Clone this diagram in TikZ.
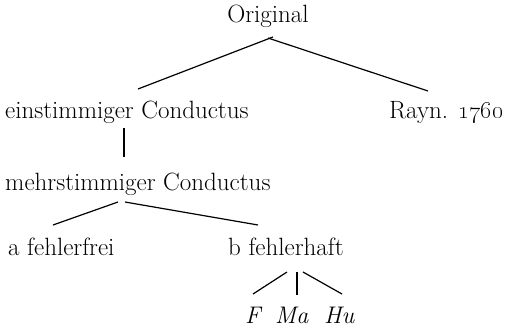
\documentclass[tikz,border=0pt]{standalone}
\begin{document}
\begin{tikzpicture}[x=1pt,y=-1pt,
  lbl/.style={anchor=base west,inner sep=0pt,font=\fontsize{25}{29}\selectfont},
  edge/.style={line width=1.2pt}]
\useasboundingbox (0,0) rectangle (511,327);
\node[lbl,anchor=base] (orig) at (268,22) {Original};
\node[lbl] (einst) at (5,118) {einstimmiger Conductus};
\node[lbl] (rayn) at (389,118) {Rayn. \oldstylenums{1760}};
\node[lbl] (mehr) at (5,190) {mehrstimmiger Conductus};
\node[lbl] (afe) at (8,255) {a fehlerfrei};
\node[lbl] (bfe) at (228,255) {b fehlerhaft};
\node[lbl,font=\fontsize{24}{28}\selectfont\itshape] (F) at (245,323) {F};
\node[lbl,font=\fontsize{24}{28}\selectfont\itshape] (Ma) at (275,323) {Ma};
\node[lbl,font=\fontsize{24}{28}\selectfont\itshape] (Hu) at (324,323) {Hu};
\draw[edge] ([shift={(5,15)}]orig.base) -- ([shift={(133,-29)}]einst.base west);
\draw[edge] ([shift={(0,16)}]orig.base) -- ([shift={(39,-27)}]rayn.base west);
\draw[edge] ([shift={(119,10)}]einst.base west) -- ([shift={(119,-33)}]mehr.base west);
\draw[edge] ([shift={(113,12)}]mehr.base west) -- ([shift={(45,-30)}]afe.base west);
\draw[edge] ([shift={(120,12)}]mehr.base west) -- ([shift={(30,-30)}]bfe.base west);
\draw[edge] ([shift={(59,17)}]bfe.base west) -- ([shift={(8,-29)}]F.base west);
\draw[edge] ([shift={(69,17)}]bfe.base west) -- ([shift={(22,-28)}]Ma.base west);
\draw[edge] ([shift={(75,17)}]bfe.base west) -- ([shift={(18,-29)}]Hu.base west);
\end{tikzpicture}
\end{document}
